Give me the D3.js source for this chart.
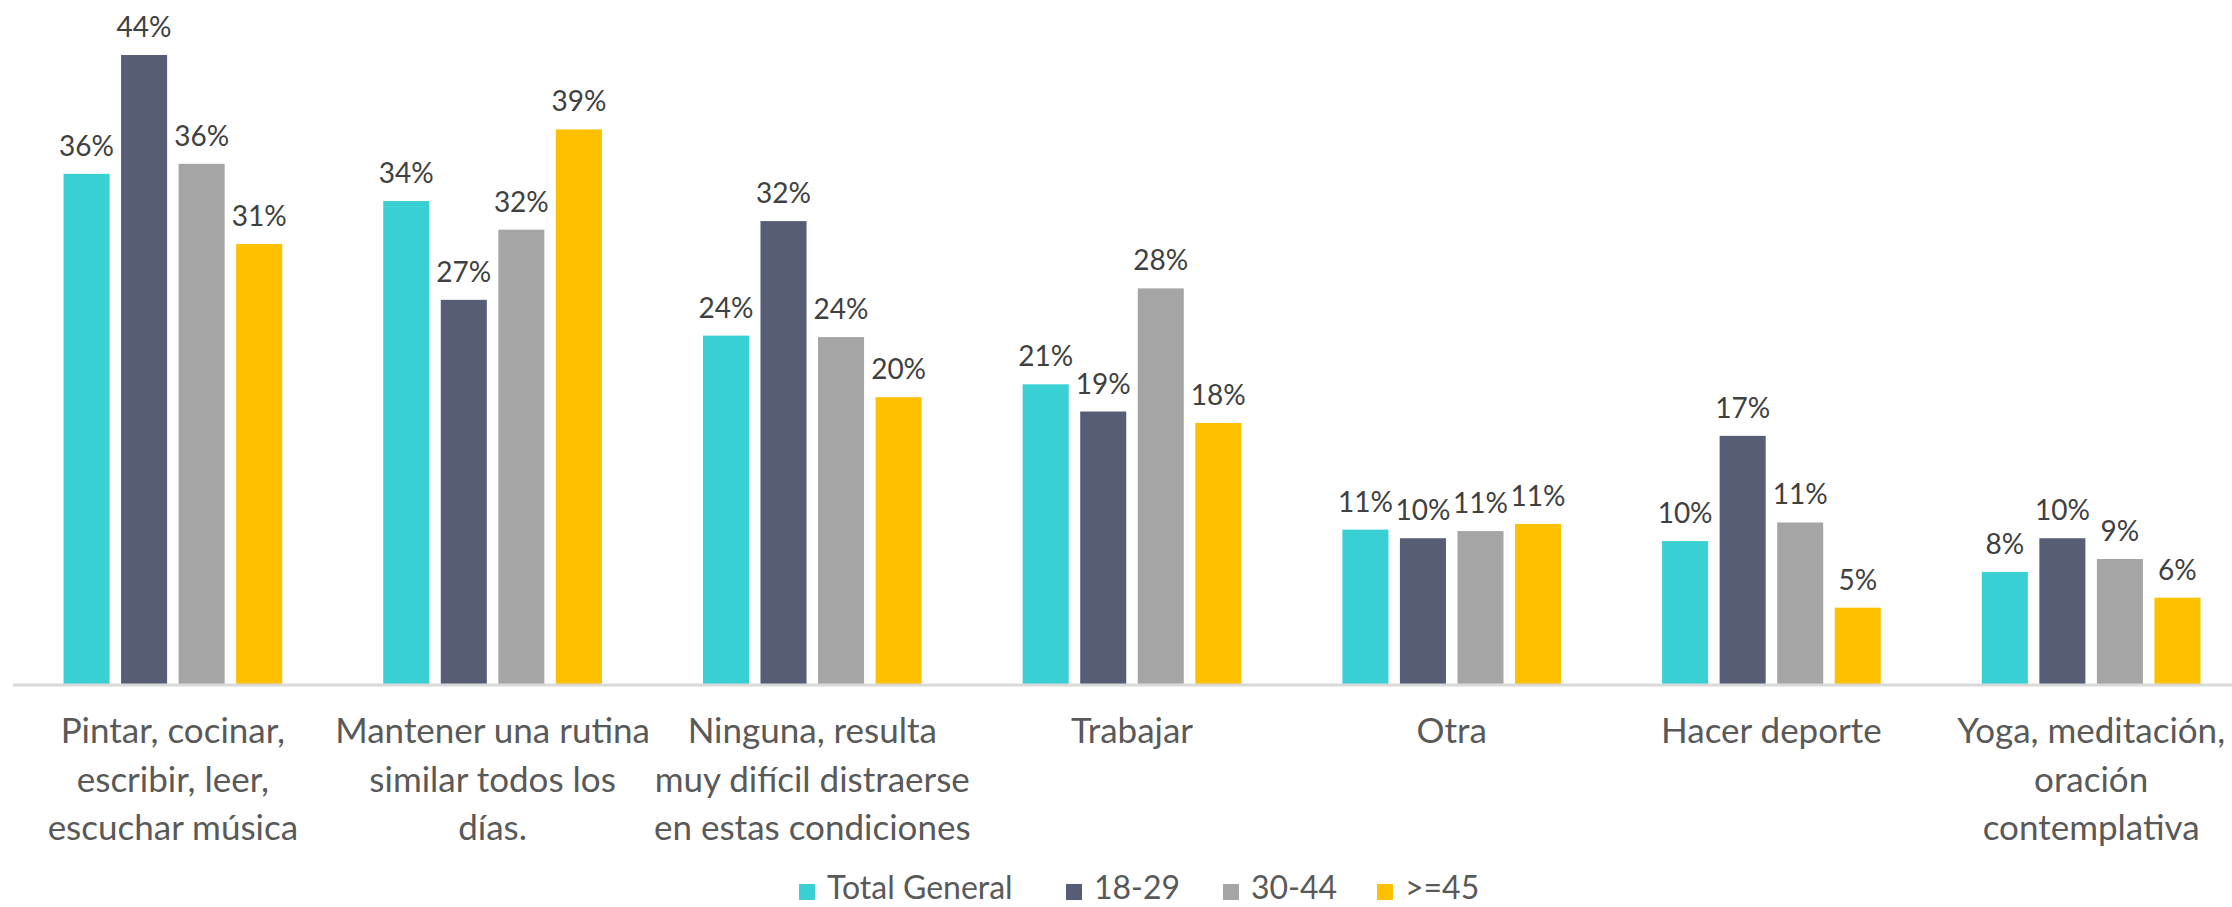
<!DOCTYPE html>
<html>
<head>
<meta charset="utf-8">
<script src="https://cdn.jsdelivr.net/npm/d3@7"></script>
<style>
  body { margin: 0; background: #fff; }
  svg text { font-family: Lato, "Open Sans", sans-serif; }
</style>
</head>
<body>
<div id="chart"></div>
<script>
// categories (wrapped as in the original)
var categories = [
    ["Pintar, cocinar,", "escribir, leer,", "escuchar música"],
    ["Mantener una rutina", "similar todos los", "días."],
    ["Ninguna, resulta", "muy difícil distraerse", "en estas condiciones"],
    ["Trabajar"],
    ["Otra"],
    ["Hacer deporte"],
    ["Yoga, meditación,", "oración", "contemplativa"]
];
var seriesNames = ["Total General", "18-29", "30-44", ">=45"];
var seriesColors = ["#38d0d2", "#565d75", "#a5a5a5", "#ffc000"];

var totalGeneral = [0.357, 0.338, 0.244, 0.210, 0.1085, 0.1005, 0.079];
var age1829 = [0.440, 0.269, 0.324, 0.191, 0.1025, 0.174, 0.1025];
var age3044 = [0.364, 0.318, 0.243, 0.277, 0.1075, 0.1135, 0.088];
var age45 = [0.308, 0.388, 0.201, 0.183, 0.1125, 0.054, 0.061];
var series = [totalGeneral, age1829, age3044, age45];

var width = 2232, height = 907;
var baseline = 685;

var svg = d3.select("#chart").append("svg")
    .attr("width", width)
    .attr("height", height);

var catIdx = d3.range(categories.length);

var x0 = d3.scaleBand()
    .domain(catIdx)
    .range([13, 2251])
    .paddingInner(0.28)
    .paddingOuter(0.14);

var x1 = d3.scaleBand()
    .domain(d3.range(series.length))
    .range([0, x0.bandwidth()])
    .paddingInner(0.2)
    .paddingOuter(0.1);

var y = d3.scaleLinear()
    .domain([0, d3.max(series, function (s) { return d3.max(s); })])
    .range([baseline, 55]);

var fmt = d3.format(".0%");

var groups = svg.selectAll(".grp")
    .data(catIdx)
    .enter().append("g")
    .attr("class", "grp")
    .attr("transform", function (i) { return "translate(" + x0(i) + ",0)"; });

var cells = groups.selectAll(".cell")
    .data(function (i) {
        return series.map(function (s, k) { return { k: k, v: s[i] }; });
    })
    .enter();

cells.append("rect")
    .attr("x", function (d) { return x1(d.k); })
    .attr("y", function (d) { return y(d.v); })
    .attr("width", x1.bandwidth())
    .attr("height", function (d) { return baseline - y(d.v); })
    .style("fill", function (d) { return seriesColors[d.k]; });

cells.append("text")
    .attr("x", function (d) { return x1(d.k) + x1.bandwidth() / 2; })
    .attr("y", function (d) { return y(d.v) - 18; })
    .attr("text-anchor", "middle")
    .style("font-size", "28px")
    .style("fill", "#404040")
    .text(function (d) { return fmt(d.v); });

// x axis
var axis = svg.append("g")
    .attr("transform", "translate(0," + baseline + ")")
    .call(d3.axisBottom(x0).tickSize(0).tickFormat(""));

axis.select(".domain")
    .attr("d", "M13,0H" + width)
    .style("stroke", "#d9d9d9")
    .style("stroke-width", 3);

axis.selectAll(".tick text").remove();
axis.selectAll(".tick").each(function (i) {
    var t = d3.select(this).append("text")
        .attr("text-anchor", "middle")
        .style("font-size", "35px")
        .style("fill", "#595959");
    categories[i].forEach(function (line, j) {
        t.append("tspan")
            .attr("x", 0)
            .attr("y", 58 + j * 48.5)
            .text(line);
    });
});

// legend
var legendX = [799, 1066, 1223, 1377];
var legend = svg.selectAll(".legend")
    .data(seriesNames)
    .enter().append("g")
    .attr("class", "legend")
    .attr("transform", function (d, i) { return "translate(" + legendX[i] + ",884)"; });

legend.append("rect")
    .attr("width", 16)
    .attr("height", 16)
    .style("fill", function (d, i) { return seriesColors[i]; });

legend.append("text")
    .attr("x", 28)
    .attr("y", 15)
    .style("font-size", "32px")
    .style("fill", "#595959")
    .text(function (d) { return d; });
</script>
</body>
</html>
